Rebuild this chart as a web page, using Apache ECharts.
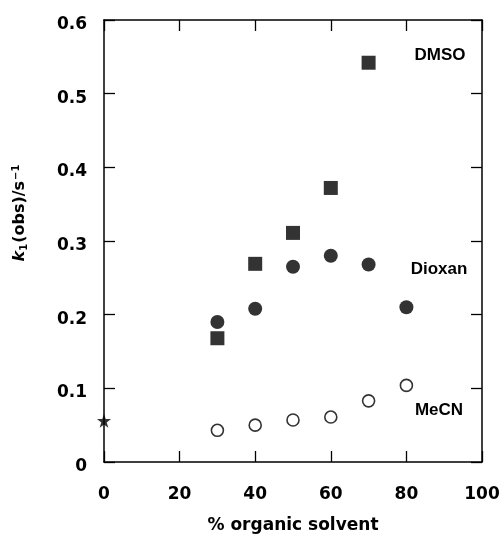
<!DOCTYPE html>
<html>
<head>
<meta charset="utf-8">
<script src="https://cdn.jsdelivr.net/npm/echarts@6/dist/echarts.min.js"></script>
<style>html,body{margin:0;padding:0;background:#fff}#c{width:501px;height:534px}</style>
</head>
<body>
<div id="c"></div>
<script>
var xTicks = [0, 20, 40, 60, 80, 100];
var dmsoX = [30, 40, 50, 60, 70];
var dmsoY = [0.168, 0.269, 0.311, 0.372, 0.542];
var dioxanX = [30, 40, 50, 60, 70, 80];
var dioxanY = [0.190, 0.208, 0.265, 0.280, 0.268, 0.210];
var mecnX = [30, 40, 50, 60, 70, 80];
var mecnY = [0.043, 0.050, 0.057, 0.061, 0.083, 0.104];
var waterX = [0];
var waterY = [0.056];
var seriesLabels = ['DMSO', 'Dioxan', 'MeCN'];

function pairs(xs, ys) { return xs.map(function (x, i) { return [x, ys[i]]; }); }

var tickFont = '"DejaVu Sans", sans-serif';
var labelFont = '"Liberation Sans", Arial, sans-serif';
var starPath = 'path://M50,0 L61.8,35.3 L98.9,35.5 L69.1,57.7 L80.2,93.5 L50,72 L19.8,93.5 L30.9,57.7 L1.1,35.5 L38.2,35.3 Z';

var axisLine = { show: true, onZero: false, lineStyle: { color: '#000', width: 1.5 } };
var axisTick = { show: true, inside: true, length: 11, lineStyle: { color: '#000', width: 1.3 } };

var chart = echarts.init(document.getElementById('c'));
chart.setOption({
  animation: false,
  backgroundColor: '#fff',
  grid: { left: 104, right: 19, top: 20, bottom: 72, containLabel: false, outerBoundsMode: 'none' },
  xAxis: [{
    type: 'value', min: 0, max: 100, interval: 20,
    axisLine: axisLine, axisTick: axisTick, splitLine: { show: false },
    axisLabel: { color: '#000', fontSize: 17, fontWeight: 'bold', fontFamily: tickFont, margin: 24 },
    name: '% organic solvent', nameLocation: 'middle', nameGap: 55,
    nameTextStyle: { color: '#000', fontSize: 17, fontWeight: 'bold', fontFamily: tickFont }
  }, {
    type: 'value', min: 0, max: 100, interval: 20, position: 'top',
    axisLine: axisLine, axisTick: axisTick, splitLine: { show: false },
    axisLabel: { show: false }
  }],
  yAxis: [{
    type: 'value', min: 0, max: 0.6, interval: 0.1,
    axisLine: axisLine, axisTick: axisTick, splitLine: { show: false },
    axisLabel: {
      color: '#000', fontSize: 17, fontWeight: 'bold', fontFamily: tickFont, margin: 17,
      verticalAlign: 'top', lineHeight: 9,
      formatter: function (v) { return v === 0 ? '0' : v.toFixed(1); }
    }
  }, {
    type: 'value', min: 0, max: 0.6, interval: 0.1, position: 'right',
    axisLine: axisLine, axisTick: axisTick, splitLine: { show: false },
    axisLabel: { show: false }
  }],
  series: [{
    name: seriesLabels[0], type: 'scatter', data: pairs(dmsoX, dmsoY),
    symbol: 'rect', symbolSize: 14, itemStyle: { color: '#000' }
  }, {
    name: seriesLabels[1], type: 'scatter', data: pairs(dioxanX, dioxanY),
    symbol: 'circle', symbolSize: 14, itemStyle: { color: '#000' }
  }, {
    name: seriesLabels[2], type: 'scatter', data: pairs(mecnX, mecnY),
    symbol: 'circle', symbolSize: 12, itemStyle: { color: '#fff', borderColor: '#000', borderWidth: 1.6 }
  }, {
    name: 'water', type: 'scatter', data: pairs(waterX, waterY),
    symbol: starPath, symbolSize: 14, itemStyle: { color: '#000' }, z: 5
  }],
  graphic: [
    {
      type: 'text', x: 20, y: 213, rotation: Math.PI / 2,
      style: {
        text: '{k|k}{sub|1}{n|(obs)/s}{sup|−1}',
        align: 'center', verticalAlign: 'middle',
        rich: {
          k: { fontSize: 16, fontStyle: 'italic', fontWeight: 'bold', fontFamily: tickFont, fill: '#000', lineHeight: 22 },
          n: { fontSize: 16, fontWeight: 'bold', fontFamily: tickFont, fill: '#000', lineHeight: 22 },
          sub: { fontSize: 10, fontWeight: 'bold', fontFamily: tickFont, fill: '#000', lineHeight: 22, padding: [8, 1, 0, 0] },
          sup: { fontSize: 10, fontWeight: 'bold', fontFamily: tickFont, fill: '#000', lineHeight: 22, padding: [0, 0, 8, 1] }
        }
      }
    },
    { type: 'text', x: 440, y: 55, style: { text: seriesLabels[0], align: 'center', verticalAlign: 'middle', fontSize: 17, fontWeight: 'bold', fontFamily: labelFont, fill: '#000' } },
    { type: 'text', x: 439, y: 269, style: { text: seriesLabels[1], align: 'center', verticalAlign: 'middle', fontSize: 17, fontWeight: 'bold', fontFamily: labelFont, fill: '#000' } },
    { type: 'text', x: 439, y: 410, style: { text: seriesLabels[2], align: 'center', verticalAlign: 'middle', fontSize: 17, fontWeight: 'bold', fontFamily: labelFont, fill: '#000' } }
  ]
});
</script>
</body>
</html>
